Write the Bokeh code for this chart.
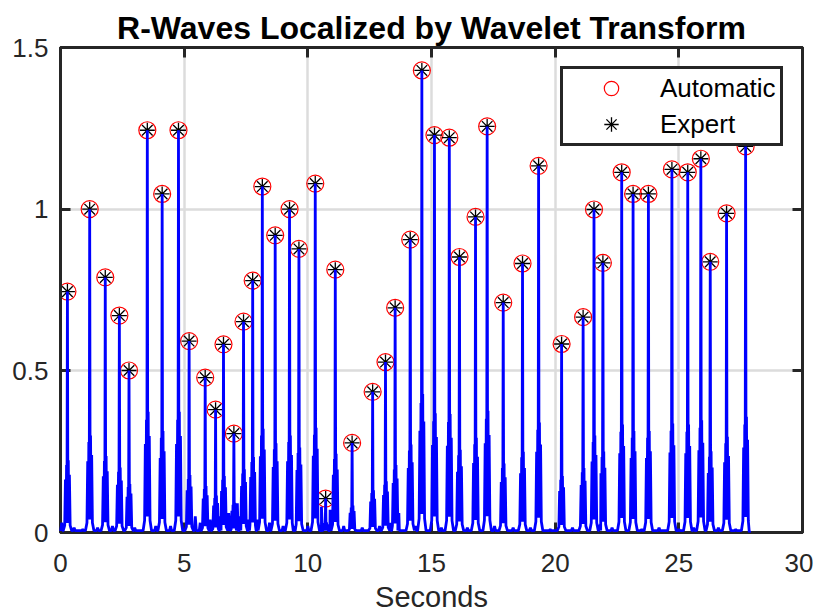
import numpy as np
from bokeh.plotting import figure
from bokeh.models import LinearAxis, FixedTicker, Legend, LegendItem
from bokeh.embed import file_html
from bokeh.resources import INLINE

# R-peak locations (s) and amplitudes
peak_times = [0.28, 1.18, 1.81, 2.38, 2.77, 3.51, 4.11, 4.77, 5.20, 5.85,
              6.27, 6.59, 7.01, 7.40, 7.77, 8.16, 8.68, 9.26, 9.64, 10.30,
              10.72, 11.11, 11.79, 12.62, 13.14, 13.53, 14.14, 14.61, 15.12, 15.72,
              16.13, 16.78, 17.25, 17.90, 18.68, 19.33, 20.26, 21.13, 21.57, 21.93,
              22.69, 23.15, 23.77, 24.72, 25.36, 25.89, 26.27, 26.93, 27.70]
peak_values = [0.745, 1.000, 0.789, 0.671, 0.501, 1.244, 1.047, 1.244, 0.592, 0.479,
               0.380, 0.582, 0.306, 0.652, 0.779, 1.070, 0.919, 1.000, 0.877, 1.079,
               0.105, 0.813, 0.277, 0.435, 0.527, 0.695, 0.906, 1.429, 1.229, 1.221,
               0.852, 0.976, 1.256, 0.711, 0.832, 1.134, 0.583, 0.666, 0.999, 0.834,
               1.114, 1.047, 1.047, 1.123, 1.114, 1.156, 0.837, 0.987, 1.194]
# expert annotations (coincide with the automatic detections)
expert_times = list(peak_times)
expert_values = list(peak_values)

# typical shape of one beat of the squared wavelet signal, relative to its R-peak
beat_offsets = [-0.17, -0.11, -0.08, -0.055, -0.035, -0.018, 0.0, 0.018, 0.035, 0.055, 0.08, 0.11, 0.17]
beat_shape = [0.0, 0.03, 0.22, 0.04, 0.28, 0.10, 1.0, 0.10, 0.30, 0.04, 0.24, 0.03, 0.0]

# small baseline bumps between beats
bump_times = [0.05, 0.55, 0.9, 1.5, 2.1, 3.0, 3.85, 4.45, 5.45, 5.65, 6.05, 6.45, 6.8,
              7.15, 7.25, 7.6, 7.95, 8.45, 9.0, 9.45, 10.0, 10.55, 10.9, 11.45, 12.2,
              12.9, 13.35, 13.68, 14.35, 15.4, 16.45, 17.55, 18.3, 19.0, 19.8, 20.7,
              21.8, 22.3, 23.5, 24.2, 25.0, 25.6, 26.6, 27.3]
bump_values = [0.03, 0.015, 0.01, 0.015, 0.02, 0.015, 0.02, 0.02, 0.05, 0.03, 0.04, 0.05, 0.06,
               0.09, 0.05, 0.04, 0.04, 0.03, 0.02, 0.02, 0.02, 0.08, 0.07, 0.02, 0.015,
               0.02, 0.03, 0.06, 0.02, 0.015, 0.015, 0.02, 0.015, 0.015, 0.01, 0.015,
               0.015, 0.015, 0.01, 0.015, 0.01, 0.015, 0.015, 0.01]
signal_start = 0.0
signal_end = 27.85

x_ticks = [0, 5, 10, 15, 20, 25, 30]
y_ticks = [0, 0.5, 1, 1.5]
y_tick_labels = ["0", "0.5", "1", "1.5"]

# ---- assemble the blue trace from beats + bumps ----
pts = [(signal_start, 0.008), (signal_end, 0.0)]
for t, v in zip(peak_times, peak_values):
    for o, s in zip(beat_offsets, beat_shape):
        pts.append((t + o, max(v * s, 0.006)))
for t, v in zip(bump_times, bump_values):
    pts += [(t - 0.04, 0.006), (t, v), (t + 0.04, 0.006)]
pts.sort(key=lambda a: a[0])
sig_t = [a[0] for a in pts]
sig_v = [a[1] for a in pts]

FONT = "Liberation Sans"
AX = "#262626"

p = figure(width=813, height=615, x_range=(0, 30), y_range=(0, 1.5),
           output_backend="svg", toolbar_location=None,
           min_border_left=60, min_border_right=11, min_border_top=47, min_border_bottom=82)
p.title.text = "R-Waves Localized by Wavelet Transform"
p.title.text_font = FONT
p.title.text_font_size = "32px"
p.title.text_font_style = "bold"
p.title.text_color = "#000000"
p.title.align = "center"
p.title.standoff = 4

p.line(sig_t, sig_v, line_color="#0000ff", line_width=2.8, level="overlay")
r_auto = p.scatter(peak_times, peak_values, marker="circle", size=17,
                   fill_color=None, line_color="#ff0000", line_width=1.2)
r_exp = p.scatter(expert_times, expert_values, marker="asterisk", size=15,
                  line_color="#000000", line_width=1.3)

def style_axis(ax, show_labels):
    ax.axis_line_color = AX
    ax.axis_line_width = 3
    ax.major_tick_line_color = AX
    ax.major_tick_line_width = 3
    ax.major_tick_in = 10
    ax.major_tick_out = 0
    ax.minor_tick_line_color = None
    if show_labels:
        ax.major_label_text_font = FONT
        ax.major_label_text_font_size = "26px"
        ax.major_label_text_color = AX
    else:
        ax.major_label_text_color = None
        ax.major_label_text_font_size = "1px"
        ax.major_label_standoff = 0

xa = p.xaxis[0]
xa.ticker = FixedTicker(ticks=x_ticks)
style_axis(xa, True)
xa.major_label_standoff = 21
xa.major_label_text_line_height = 0.8
xa.axis_label = "Seconds"
xa.axis_label_text_font = FONT
xa.axis_label_text_font_size = "29px"
xa.axis_label_text_font_style = "normal"
xa.axis_label_text_color = AX
xa.axis_label_text_line_height = 0.8
xa.axis_label_standoff = 6

ya = p.yaxis[0]
ya.ticker = FixedTicker(ticks=y_ticks)
ya.major_label_overrides = {t: s for t, s in zip(y_ticks, y_tick_labels)}
style_axis(ya, True)
ya.major_label_standoff = 12

top = LinearAxis(ticker=FixedTicker(ticks=x_ticks))
style_axis(top, False)
p.add_layout(top, "above")
right = LinearAxis(ticker=FixedTicker(ticks=y_ticks))
style_axis(right, False)
p.add_layout(right, "right")

p.xgrid.ticker = FixedTicker(ticks=x_ticks)
p.ygrid.ticker = FixedTicker(ticks=y_ticks)
for g in (p.xgrid[0], p.ygrid[0]):
    g.grid_line_color = "#dcdcdc"
    g.grid_line_width = 2.5

p.outline_line_color = AX
p.outline_line_width = 3
p.outline_line_alpha = 1.0
p.background_fill_color = "#ffffff"
p.border_fill_color = "#ffffff"

legend = Legend(items=[LegendItem(label="Automatic", renderers=[r_auto]),
                       LegendItem(label="Expert", renderers=[r_exp])],
                location="top_right")
legend.margin = 19
legend.padding = 1
legend.spacing = 0
legend.glyph_height = 36
legend.label_height = 36
legend.glyph_width = 94
legend.label_width = 119
legend.label_standoff = 2
legend.label_text_font = FONT
legend.label_text_font_size = "26px"
legend.label_text_color = "#000000"
legend.border_line_color = AX
legend.border_line_width = 3
legend.border_line_alpha = 1.0
legend.background_fill_color = "#ffffff"
legend.background_fill_alpha = 1.0
p.add_layout(legend)

open("out.html", "w").write(file_html(p, INLINE))
